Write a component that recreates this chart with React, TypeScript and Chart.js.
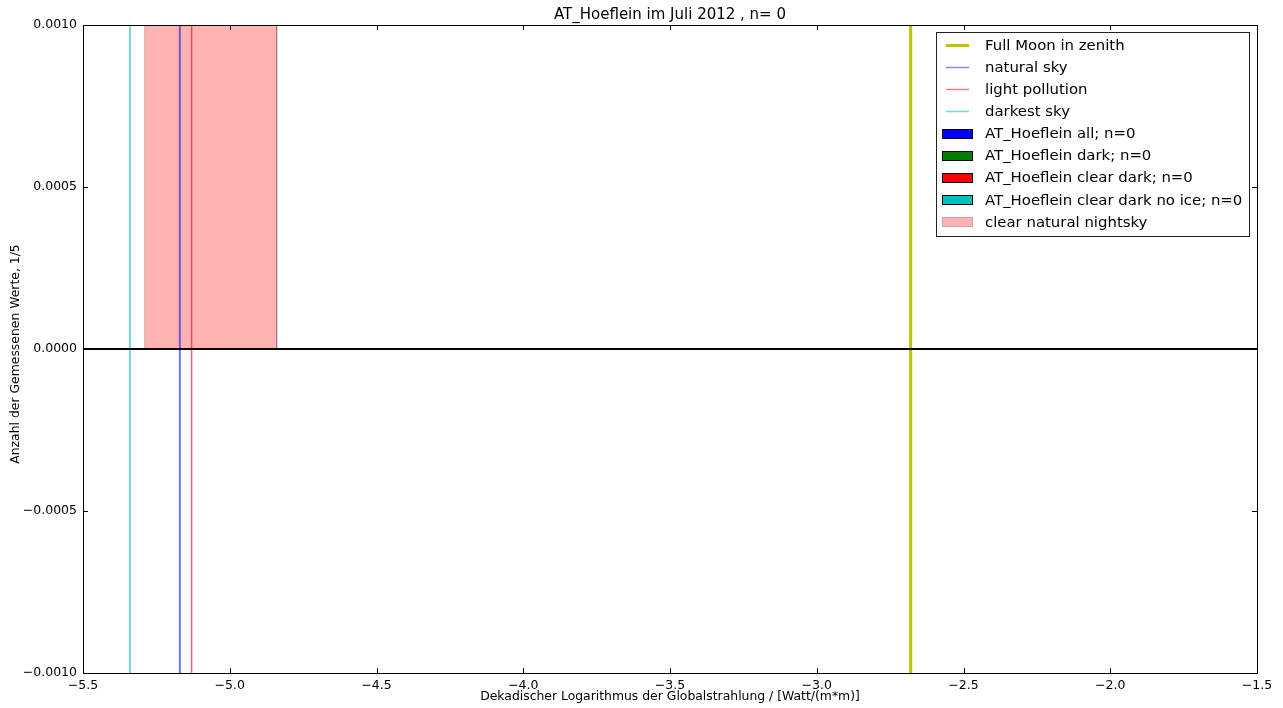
import React, { useEffect, useRef } from "react";
import { Chart, registerables } from "chart.js";

Chart.register(...registerables);

// ---- text ----
const chartTitle = "AT_Hoeflein im Juli 2012 , n= 0";
const xAxisLabel = "Dekadischer Logarithmus der Globalstrahlung / [Watt/(m*m)]";
const yAxisLabel = "Anzahl der Gemessenen Werte, 1/5";

// ---- axes ----
const xLimits = [-5.5, -1.5];
const yLimits = [-0.001, 0.001];
const xTickValues = [-5.5, -5.0, -4.5, -4.0, -3.5, -3.0, -2.5, -2.0, -1.5];
const yTickValues = [-0.001, -0.0005, 0, 0.0005, 0.001];

// ---- reference lines (x positions, log10 W/m²) ----
const fullMoonX = -2.68;
const naturalSkyX = -5.17;
const lightPollutionX = -5.13;
const darkestSkyX = -5.34;

// ---- clear natural nightsky band ----
const nightskyBand = [-5.29, -4.84];
const nightskyTop = 0.001;

// ---- histograms (n = 0 everywhere) ----
const histEdges = [-5.5, -1.5];
const histCounts = [0, 0];

// ---- legend labels ----
const legendLabels = [
  "Full Moon in zenith",
  "natural sky",
  "light pollution",
  "darkest sky",
  "AT_Hoeflein all; n=0",
  "AT_Hoeflein dark; n=0",
  "AT_Hoeflein clear dark; n=0",
  "AT_Hoeflein clear dark no ice; n=0",
  "clear natural nightsky",
];

const FONT = "'DejaVu Sans', 'Liberation Sans', sans-serif";
const MINUS = "\u2212";

const C_MOON = "#c0c400";
const C_NATURAL = "rgba(40,40,230,0.65)";
const C_LIGHT = "rgba(240,30,50,0.7)";
const C_DARKEST = "rgba(20,195,180,0.8)";
const C_SHADE = "rgba(255,0,0,0.3)";
const C_SHADE_EDGE = "rgba(110,60,60,0.35)";

const legendStyles = [
  { kind: "line", color: C_MOON, width: 3 },
  { kind: "line", color: "rgba(40,40,230,0.55)", width: 1.5 },
  { kind: "line", color: "rgba(240,30,50,0.6)", width: 1.5 },
  { kind: "line", color: "rgba(20,195,190,0.6)", width: 1.5 },
  { kind: "patch", color: "#0000ff", edge: "#000" },
  { kind: "patch", color: "#008000", edge: "#000" },
  { kind: "patch", color: "#ff0000", edge: "#000" },
  { kind: "patch", color: "#00bfbf", edge: "#000" },
  { kind: "patch", color: "#ffb3b3", edge: "rgba(120,80,80,0.4)" },
];

const fmt = (v: number, d: number) => {
  const s = Math.abs(v).toFixed(d);
  return (v < -1e-12 ? MINUS : "") + s;
};

const decorPlugin = {
  id: "decor",
  beforeDraw(chart: any) {
    const { ctx, width, height } = chart;
    ctx.save();
    ctx.fillStyle = "#fff";
    ctx.fillRect(0, 0, width, height);
    ctx.restore();
  },
  afterDraw(chart: any) {
    const { ctx, chartArea: a } = chart;
    const xs = chart.scales.x;
    const ys = chart.scales.y;
    ctx.save();
    // frame
    ctx.strokeStyle = "#000";
    ctx.lineWidth = 1;
    ctx.strokeRect(Math.round(a.left) + 0.5, Math.round(a.top) + 0.5, Math.round(a.right - a.left), Math.round(a.bottom - a.top));
    // inward ticks
    const tl = 5;
    ctx.beginPath();
    xTickValues.forEach((v) => {
      const px = Math.round(xs.getPixelForValue(v)) + 0.5;
      ctx.moveTo(px, a.bottom);
      ctx.lineTo(px, a.bottom - tl);
      ctx.moveTo(px, a.top);
      ctx.lineTo(px, a.top + tl);
    });
    yTickValues.forEach((v) => {
      const py = Math.round(ys.getPixelForValue(v)) + 0.5;
      ctx.moveTo(a.left, py);
      ctx.lineTo(a.left + tl, py);
      ctx.moveTo(a.right, py);
      ctx.lineTo(a.right - tl, py);
    });
    ctx.stroke();

    // title
    ctx.fillStyle = "#000";
    ctx.textAlign = "center";
    ctx.textBaseline = "middle";
    ctx.font = `15px ${FONT}`;
    ctx.fillText(chartTitle, (a.left + a.right) / 2, 15);
    // axis labels
    ctx.font = `12.4px ${FONT}`;
    ctx.fillText(xAxisLabel, (a.left + a.right) / 2, 697);
    ctx.save();
    ctx.translate(16, (a.top + a.bottom) / 2 + 5);
    ctx.rotate(-Math.PI / 2);
    ctx.fillText(yAxisLabel, 0, 0);
    ctx.restore();

    // legend
    const bx = 936.5, by = 32.5, bw = 313, bh = 204;
    ctx.fillStyle = "#fff";
    ctx.fillRect(bx, by, bw, bh);
    ctx.strokeStyle = "#222";
    ctx.lineWidth = 1;
    ctx.strokeRect(bx, by, bw, bh);
    ctx.font = `14.9px ${FONT}`;
    ctx.textAlign = "left";
    ctx.textBaseline = "middle";
    legendLabels.forEach((label, i) => {
      const y = 45 + i * 22.1;
      const st: any = legendStyles[i];
      if (st.kind === "line") {
        ctx.strokeStyle = st.color;
        ctx.lineWidth = st.width;
        ctx.beginPath();
        ctx.moveTo(946, Math.round(y) + 0.5);
        ctx.lineTo(969, Math.round(y) + 0.5);
        ctx.stroke();
      } else {
        ctx.fillStyle = st.color;
        ctx.fillRect(942.5, Math.round(y - 4.5) + 0.5, 30, 9);
        ctx.strokeStyle = st.edge;
        ctx.lineWidth = 1;
        ctx.strokeRect(942.5, Math.round(y - 4.5) + 0.5, 30, 9);
      }
      ctx.fillStyle = "#000";
      ctx.fillText(label, 985, y + 1);
    });
    ctx.restore();
  },
};

const vline = (x: number, color: string, width: number, order: number, label: string) => ({
  type: "line" as const,
  label,
  data: [
    { x, y: yLimits[0] },
    { x, y: yLimits[1] },
  ],
  borderColor: color,
  borderWidth: width,
  pointRadius: 0,
  fill: false,
  order,
});

export default function App() {
  const ref = useRef<HTMLCanvasElement | null>(null);
  useEffect(() => {
    document.body.style.margin = "0";
    const canvas = ref.current!;
    const histData = histEdges.map((x, i) => ({ x, y: histCounts[i] }));
    const chart = new Chart(canvas, {
      type: "scatter",
      data: {
        datasets: [
          {
            type: "line",
            label: "histograms",
            data: histData,
            borderColor: "#000",
            borderWidth: 2,
            pointRadius: 0,
            fill: false,
            order: 0,
          },
          vline(fullMoonX, C_MOON, 3, 1, "Full Moon in zenith"),
          vline(naturalSkyX, C_NATURAL, 2, 1, "natural sky"),
          vline(lightPollutionX, C_LIGHT, 1.5, 1, "light pollution"),
          vline(darkestSkyX, C_DARKEST, 1.5, 1, "darkest sky"),
          {
            type: "line",
            label: "clear natural nightsky",
            data: [
              { x: nightskyBand[0], y: 0 },
              { x: nightskyBand[0], y: nightskyTop },
              { x: nightskyBand[1], y: nightskyTop },
              { x: nightskyBand[1], y: 0 },
            ],
            borderColor: C_SHADE_EDGE,
            borderWidth: 1,
            backgroundColor: C_SHADE,
            pointRadius: 0,
            fill: { value: 0 },
            order: 2,
          } as any,
        ],
      },
      options: {
        animation: false,
        responsive: false,
        maintainAspectRatio: false,
        layout: { padding: { left: 0, right: 26, top: 25, bottom: 0 } },
        plugins: {
          legend: { display: false },
          title: { display: false },
          tooltip: { enabled: false },
        },
        scales: {
          x: {
            type: "linear",
            min: xLimits[0],
            max: xLimits[1],
            grid: { display: false, drawTicks: false },
            border: { display: false },
            afterBuildTicks: (s: any) => {
              s.ticks = xTickValues.map((v) => ({ value: v }));
            },
            afterFit: (s: any) => {
              s.height = 35;
            },
            ticks: {
              color: "#000",
              font: { family: FONT, size: 12.5 },
              padding: 5,
              maxRotation: 0,
              autoSkip: false,
              callback: (v: any) => fmt(Number(v), 1),
            },
          },
          y: {
            type: "linear",
            min: yLimits[0],
            max: yLimits[1],
            grid: { display: false, drawTicks: false },
            border: { display: false },
            afterBuildTicks: (s: any) => {
              s.ticks = yTickValues.map((v) => ({ value: v }));
            },
            afterFit: (s: any) => {
              s.width = 83;
            },
            ticks: {
              color: "#000",
              font: { family: FONT, size: 12.5 },
              padding: 6,
              autoSkip: false,
              callback: (v: any) => fmt(Number(v), 4),
            },
          },
        },
      },
      plugins: [decorPlugin],
    } as any);
    return () => chart.destroy();
  }, []);
  return (
    <div style={{ position: "absolute", left: 0, top: 0, width: 1283, height: 708, background: "#fff" }}>
      <canvas ref={ref} width={1283} height={708} style={{ display: "block" }} />
    </div>
  );
}
